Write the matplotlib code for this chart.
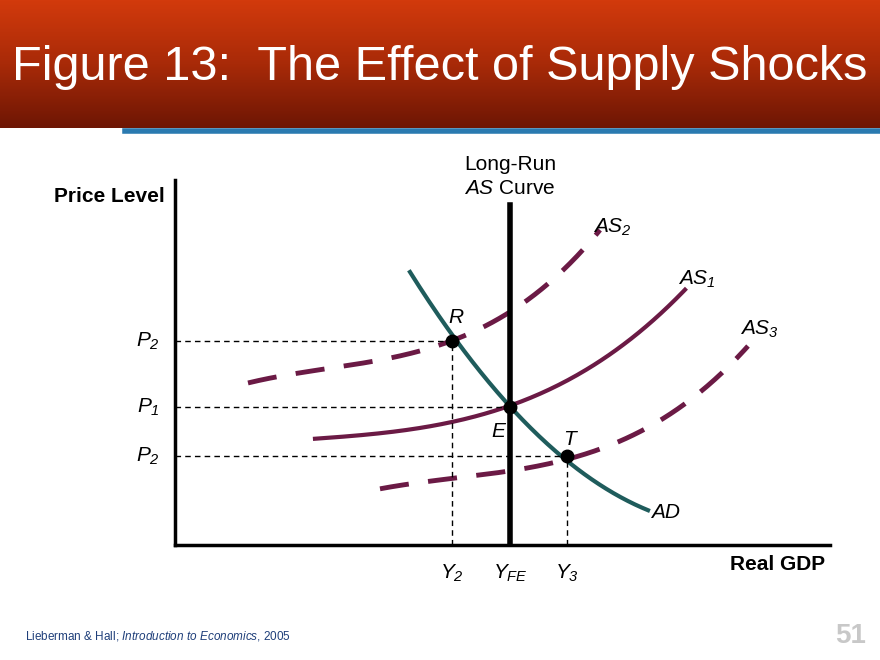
import numpy as np
import matplotlib.pyplot as plt
from matplotlib.colors import LinearSegmentedColormap

plt.rcParams["font.family"] = ["Liberation Sans", "DejaVu Sans"]
plt.rcParams["mathtext.fontset"] = "custom"
plt.rcParams["mathtext.rm"] = "Liberation Sans:italic"
plt.rcParams["mathtext.it"] = "Liberation Sans:italic"

# data in axis units (x to the right of origin, y above origin)
ad_x = [235, 277, 335, 392, 473]
ad_y = [277, 204, 138, 89, 33]
as1_x = [140, 225, 335, 425, 510]
as1_y = [106, 115, 138, 185, 255]
as2_x = [73, 175, 277, 345, 425]
as2_y = [162, 180, 204, 240, 315]
as3_x = [205, 285, 392, 505, 573]
as3_y = [57, 65, 89, 135, 200]
lras_x = 335
pts = {"R": (277, 204), "E": (335, 138), "T": (392, 89)}
price_ticks = [(204, "2"), (138, "1"), (89, "2")]
gdp_ticks = [(277, "2"), (335, "FE"), (392, "3")]

fig = plt.figure(figsize=(8.8, 6.6), dpi=100)

# header band
hdr = fig.add_axes([0, 1 - 128 / 660, 1, 128 / 660])
cmap = LinearSegmentedColormap.from_list("h", ["#d23a0c", "#a82a08", "#6e1604"])
hdr.imshow(np.linspace(0, 1, 100)[:, None], aspect="auto", cmap=cmap, extent=[0, 1, 0, 1])
hdr.axis("off")
fig.text(12 / 880, 1 - 68 / 660, "Figure 13:  The Effect of Supply Shocks", color="white",
         fontsize=35, ha="left", va="center")
fig.add_artist(plt.Line2D([125 / 880, 1], [1 - 131 / 660] * 2, color="#2a7ab0", lw=4))

ax = fig.add_axes([175 / 880, 115 / 660, 655 / 880, 365 / 660])
ax.set_xlim(0, 655)
ax.set_ylim(0, 365)
for s in ["top", "right"]:
    ax.spines[s].set_visible(False)
for s in ["left", "bottom"]:
    ax.spines[s].set_linewidth(2.5)
ax.set_xticks([])
ax.set_yticks([])

def smooth(xs, ys, deg=3):
    c = np.polyfit(xs, ys, deg)
    xx = np.linspace(xs[0], xs[-1], 200)
    return xx, np.polyval(c, xx)

maroon = "#6b1a45"
ax.plot(*smooth(as1_x, as1_y), color=maroon, lw=3)
ax.plot(*smooth(as2_x, as2_y), color=maroon, lw=3.5, dashes=(6, 4))
ax.plot(*smooth(as3_x, as3_y), color=maroon, lw=3.5, dashes=(6, 4))
ax.plot(*smooth(ad_x, ad_y, 2), color="#1f5c5c", lw=3)
ax.plot([lras_x, lras_x], [0, 340], color="black", lw=4)

for (yv, sub) in price_ticks:
    xv = [p[0] for p in pts.values() if p[1] == yv][0]
    ax.plot([0, xv], [yv, yv], "k--", lw=1, dashes=(4, 3))
    ax.text(-15, yv, "$P_{%s}$" % sub, ha="right", va="center", fontsize=15)
for (xv, sub) in gdp_ticks:
    yv = [p[1] for p in pts.values() if p[0] == xv][0]
    ax.plot([xv, xv], [0, yv], "k--", lw=1, dashes=(4, 3))
    ax.text(xv, -18, "$Y_{%s}$" % sub, ha="center", va="top", fontsize=15)
for k, (xv, yv) in pts.items():
    ax.plot(xv, yv, "o", color="black", ms=9)
ax.text(281, 222, "R", fontsize=15, style="italic", ha="center")
ax.text(316, 108, "E", fontsize=15, style="italic")
ax.text(388, 100, "T", fontsize=15, style="italic")

ax.text(418, 312, "$AS_{2}$", fontsize=15)
ax.text(503, 260, "$AS_{1}$", fontsize=15)
ax.text(565, 210, "$AS_{3}$", fontsize=15)
ax.text(476, 32, "AD", fontsize=15, style="italic", va="center")
ax.text(335, 380, "Long-Run", fontsize=15, ha="center", va="center")
ax.text(335, 356, "$AS$ Curve", fontsize=15, ha="center", va="center")
ax.text(-10, 349, "Price Level", fontsize=15, weight="bold", ha="right", va="center")
ax.text(650, -20, "Real GDP", fontsize=15, weight="bold", ha="right", va="center")

fig.text(25 / 880, 1 - 636 / 660, "Lieberman & Hall; $Introduction\\ to\\ Economics$, 2005",
         fontsize=8.5, color="#1f3f7a", va="center")
fig.text(866 / 880, 1 - 636 / 660, "51", fontsize=20, weight="bold", color="#c8c8c8",
         ha="right", va="center")

fig.savefig("out.png", dpi=100)
